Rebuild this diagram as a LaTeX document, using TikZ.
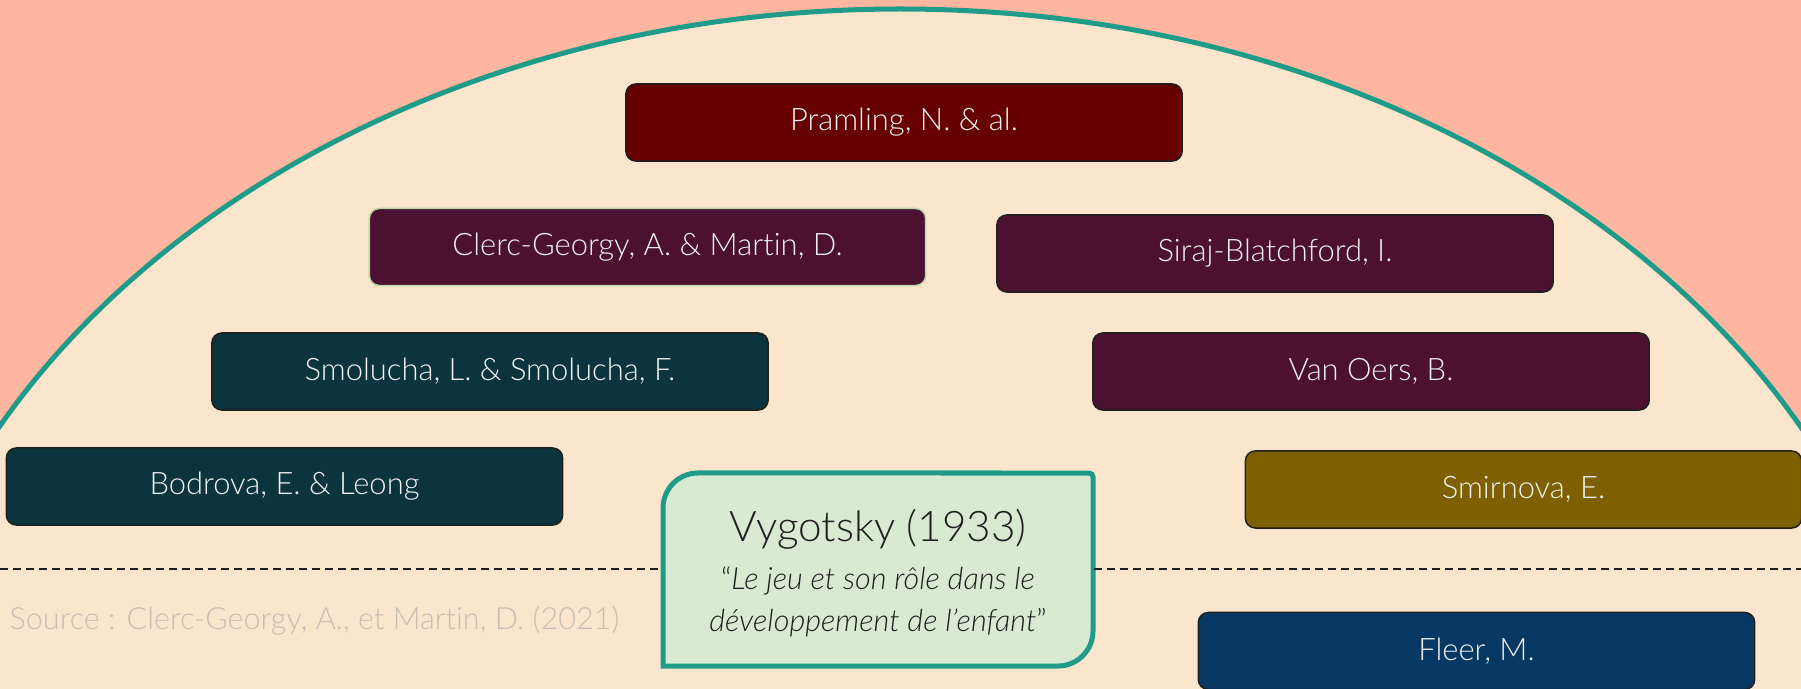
\documentclass[tikz,border=0pt]{standalone}
\usepackage{fontspec}
\setmainfont{Lato}[UprightFont={* Light}, ItalicFont={* Light Italic}, Ligatures=NoCommon]
\definecolor{salmonbg}{HTML}{FFB6A0}
\definecolor{creambg}{HTML}{FCE5CD}
\definecolor{tealline}{HTML}{1E9B89}
\definecolor{boxred}{HTML}{660000}
\definecolor{boxplum}{HTML}{4C1130}
\definecolor{boxteal}{HTML}{0C343D}
\definecolor{boxolive}{HTML}{7F6000}
\definecolor{boxnavy}{HTML}{073763}
\definecolor{vygfill}{HTML}{D9EAD3}
\definecolor{greenedge}{HTML}{B6D7A8}
\definecolor{edgedark}{HTML}{1F1F1F}
\definecolor{labelwhite}{HTML}{F2F2F2}
\definecolor{sourcegray}{HTML}{C9BDB1}

\begin{document}
\begin{tikzpicture}[x=0.01cm, y=-0.01cm,
  authorbox/.style={draw=edgedark, line width=0.015cm, rounded corners=0.1cm,
    minimum width=5.56cm, minimum height=0.77cm, inner sep=0pt,
    text=labelwhite, font=\fontsize{8.8}{10}\selectfont},
  dashline/.style={edgedark, line width=0.02cm, dash pattern=on 0.08cm off 0.05cm}]
% Background and arc
\clip (0,0) rectangle (1801,688);
\fill[salmonbg] (0,0) rectangle (1801,688);
\filldraw[fill=creambg, draw=tealline, line width=0.05cm] (900,809) ellipse [x radius=1025, y radius=800];

% Authors
\node[authorbox, fill=boxred] (pramling) at (904,122.5) {Pramling, N. \& al.};
\node[authorbox, fill=boxplum, draw=greenedge] (clerc) at (647.5,247) {Clerc-Georgy, A. \& Martin, D.};
\node[authorbox, fill=boxplum] (siraj) at (1275,253.5) {Siraj-Blatchford, I.};
\node[authorbox, fill=boxteal] (smolucha) at (490,371.5) {Smolucha, L. \& Smolucha, F.};
\node[authorbox, fill=boxplum] (vanoers) at (1371,371.5) {Van Oers, B.};
\node[authorbox, fill=boxteal] (bodrova) at (284.5,486.5) {Bodrova, E. \& Leong};
\node[authorbox, fill=boxolive] (smirnova) at (1523.5,489.5) {Smirnova, E.};
\node[authorbox, fill=boxnavy] (fleer) at (1476.5,651) {Fleer, M.};

% Vygotsky
\filldraw[fill=vygfill, draw=tealline, line width=0.05cm]
  (663,666) -- (663,508) arc[start angle=180, end angle=90, radius=0.35cm]
  -- (1089,473) arc[start angle=90, end angle=0, radius=0.04cm]
  -- (1093,631) arc[start angle=0, end angle=-90, radius=0.35cm] -- cycle;
\node[align=center, inner sep=0pt, minimum width=4.3cm, minimum height=1.93cm, text=edgedark]
  (vyg) at (878,573)
  {{\fontsize{12}{14}\selectfont Vygotsky (1933)}\\[1.8pt]
   {\fontsize{8.7}{11}\selectfont “\itshape Le jeu et son rôle dans le}\\
   {\fontsize{8.7}{11}\selectfont\itshape développement de l’enfant\/\upshape”}};

% Timeline
\coordinate (lend) at (0,569);
\coordinate (rend) at (1801,569);
\draw[dashline] (lend) -- (lend -| vyg.west);
\draw[dashline] (rend -| vyg.east) -- (rend);

% Source
\node[anchor=west, inner sep=0pt, text=sourcegray, font=\fontsize{8.7}{10}\selectfont] (source) at (9,621)
  {Source : Clerc-Georgy, A., et Martin, D. (2021)};
\end{tikzpicture}
\end{document}
